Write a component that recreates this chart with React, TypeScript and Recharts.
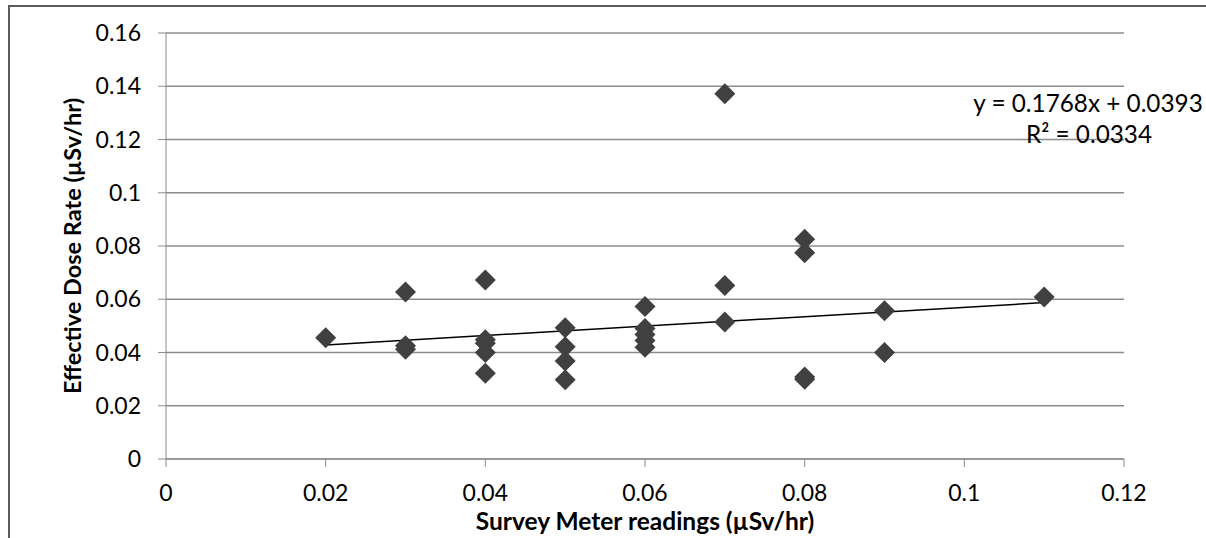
import React from "react";
import {
  ScatterChart,
  Scatter,
  XAxis,
  YAxis,
  CartesianGrid,
  ReferenceLine,
  Label,
  Customized,
} from "recharts";

const surveyMeter = [
  0.02,
  0.03, 0.03, 0.03,
  0.04, 0.04, 0.04, 0.04, 0.04,
  0.05, 0.05, 0.05, 0.05,
  0.06, 0.06, 0.06, 0.06, 0.06,
  0.07, 0.07, 0.07,
  0.08, 0.08, 0.08, 0.08,
  0.09, 0.09,
  0.11,
];
const doseRate = [
  0.0455,
  0.0627, 0.0425, 0.0412,
  0.0672, 0.0448, 0.0435, 0.04, 0.0322,
  0.0493, 0.0422, 0.0368, 0.0298,
  0.0573, 0.049, 0.0468, 0.0445, 0.042,
  0.1372, 0.0652, 0.0515,
  0.0825, 0.0775, 0.0308, 0.03,
  0.0557, 0.04,
  0.0608,
];
const xTicks = [0, 0.02, 0.04, 0.06, 0.08, 0.1, 0.12];
const yTicks = [0, 0.02, 0.04, 0.06, 0.08, 0.1, 0.12, 0.14, 0.16];
const trendSlope = 0.1768;
const trendIntercept = 0.0393;
const trendStart = 0.02;
const trendEnd = 0.11;
const equationText = "y = 0.1768x + 0.0393";
const r2Text = "R² = 0.0334";

const points = surveyMeter.map((x, i) => ({ x, y: doseRate[i] }));

const FONT = "Lato, 'Open Sans', sans-serif";

const Diamond = (props: any) => {
  const { cx, cy } = props;
  const r = 10.5;
  return (
    <path
      d={`M${cx},${cy - r}L${cx + r},${cy}L${cx},${cy + r}L${cx - r},${cy}Z`}
      fill="#404040"
    />
  );
};

const fmt = (v: number) => (v === 0 ? "0" : String(Number(v.toFixed(2))));

export default function App() {
  return (
    <div
      style={{
        position: "absolute",
        left: 0,
        top: 0,
        width: 1206,
        height: 538,
        background: "#fff",
        overflow: "hidden",
      }}
    >
      <div
        style={{
          position: "absolute",
          left: 8,
          top: 5,
          width: 1206,
          height: 540,
          borderTop: "2px solid #5a5a5a",
          borderLeft: "2px solid #5a5a5a",
        }}
      />
      <div style={{ position: "absolute", left: 0, top: 0 }}>
        <ScatterChart
          width={1206}
          height={538}
          margin={{ top: 33, right: 82, bottom: 19, left: 66 }}
        >
          <CartesianGrid
            horizontal={true}
            vertical={false}
            stroke="#8c8c8c"
            strokeWidth={1.3}
          />
          <XAxis
            type="number"
            dataKey="x"
            domain={[0, 0.12]}
            ticks={xTicks}
            tickFormatter={fmt}
            height={60}
            tickSize={8}
            tickMargin={18}
            stroke="#8c8c8c"
            tick={{ fill: "#000", fontSize: 23, fontFamily: FONT }}
            interval={0}
            allowDataOverflow
          >
            <Label
              content={(p: any) => {
                const vb = p.viewBox || {};
                return (
                  <text
                    x={vb.x + vb.width / 2}
                    y={530}
                    textAnchor="middle"
                    fontFamily={FONT}
                    fontWeight="bold"
                    fontSize={24.5}
                    fill="#000"
                  >
                    Survey Meter readings (µSv/hr)
                  </text>
                );
              }}
            />
          </XAxis>
          <YAxis
            type="number"
            dataKey="y"
            domain={[0, 0.16]}
            ticks={yTicks}
            tickFormatter={fmt}
            width={100}
            tickSize={8}
            tickMargin={17}
            stroke="#8c8c8c"
            tick={{ fill: "#000", fontSize: 23, fontFamily: FONT }}
            interval={0}
            allowDataOverflow
          >
            <Label
              content={(p: any) => {
                const vb = p.viewBox || {};
                const cy = vb.y + vb.height / 2;
                const cx = 72;
                return (
                  <text
                    x={cx}
                    y={cy}
                    transform={`rotate(-90 ${cx} ${cy})`}
                    textAnchor="middle"
                    dominantBaseline="central"
                    fontFamily={FONT}
                    fontWeight="bold"
                    fontSize={23.5}
                    fill="#000"
                  >
                    Effective Dose Rate (µSv/hr)
                  </text>
                );
              }}
            />
          </YAxis>
          <Scatter
            data={points}
            shape={Diamond}
            isAnimationActive={false}
          />
          <ReferenceLine
            segment={[
              { x: trendStart, y: trendSlope * trendStart + trendIntercept },
              { x: trendEnd, y: trendSlope * trendEnd + trendIntercept },
            ]}
            stroke="#000"
            strokeWidth={1.5}
            ifOverflow="visible"
          />
          <Customized
            component={() => (
              <g fontFamily={FONT} fontSize={24.3} fill="#000">
                <text x={1088} y={112} textAnchor="middle">
                  {equationText}
                </text>
                <text x={1089} y={143} textAnchor="middle">
                  {r2Text}
                </text>
              </g>
            )}
          />
        </ScatterChart>
      </div>
    </div>
  );
}
